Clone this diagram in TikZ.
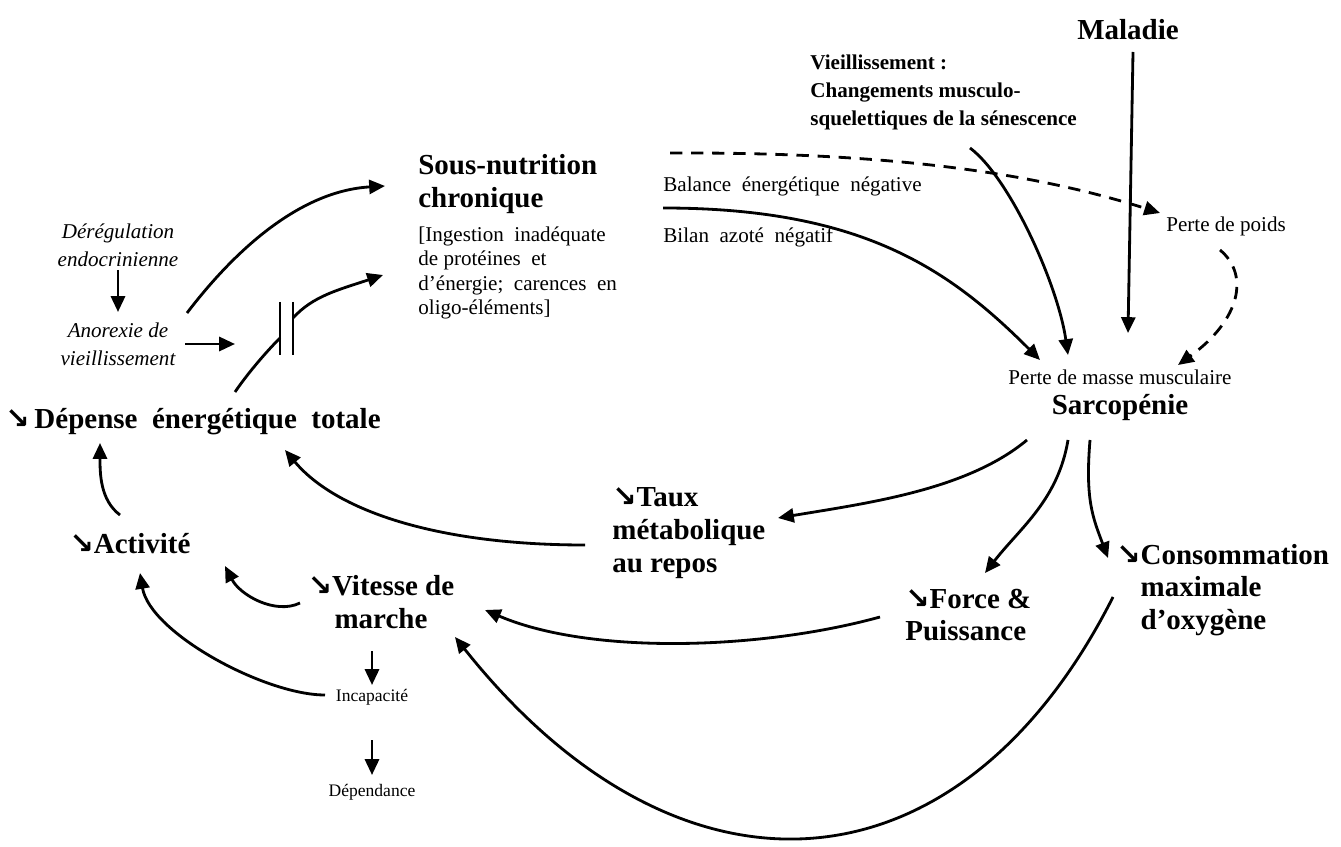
\documentclass[tikz,border=0pt]{standalone}
\usepackage{fontspec}
\setmainfont{Liberation Serif}
\newfontfamily\arrowfont{DejaVu Sans}
\usetikzlibrary{arrows.meta}
\newcommand{\baisse}{{\arrowfont\symbol{"2198}}}
\begin{document}
\begin{tikzpicture}[x=0.02cm, y=-0.02cm,
    grand/.style={font=\fontsize{16.5}{18.7}\selectfont\bfseries, align=left, inner sep=0pt},
    moyen/.style={font=\fontsize{12}{15.9}\selectfont\bfseries, align=left, inner sep=0pt},
    petit/.style={font=\fontsize{12}{14}\selectfont, align=left, inner sep=0pt},
    mini/.style={font=\fontsize{10}{12}\selectfont, inner sep=0pt},
    ital/.style={font=\fontsize{12}{16}\selectfont\itshape, align=center, inner sep=0pt},
    fleche/.style={line width=1.6pt, -{Triangle[length=9pt,width=8pt]}},
    tirets/.style={fleche, dash pattern=on 7pt off 5pt}]
  \useasboundingbox (0,0) rectangle (1341,847);
  \node[grand] (mal) at (1128,30) {Maladie};
  \node[moyen, anchor=west] (vieil) at (810,92) {Vieillissement :\\Changements musculo-\\squelettiques de la sénescence};
  \node[grand, anchor=west] (sous) at (418,184) {Sous-nutrition\\chronique};
  \node[petit, anchor=west] (ingest) at (418,273) {[Ingestion\ \ inadéquate\\de protéines\ \ et\\d’énergie;\ \ carences\ \ en\\oligo-éléments]};
  \node[petit, anchor=west] (bal) at (663,186) {Balance\ \ énergétique\ \ négative};
  \node[petit, anchor=west] (bil) at (663,237) {Bilan\ \ azoté\ \ négatif};
  \node[petit] (poids) at (1226,226) {Perte de poids};
  \node[petit] (masse) at (1120,377) {Perte de masse musculaire};
  \node[grand] (sarco) at (1120,408) {Sarcopénie};
  \node[ital] (dereg) at (118,245) {Dérégulation\\endocrinienne};
  \node[ital] (anor) at (118,344) {Anorexie de\\vieillissement};
  \node[grand, anchor=west] (dep) at (5,422) {\baisse\,Dépense\ \ énergétique\ \ totale};
  \node[grand] (act) at (130,544) {\baisse Activité};
  \node[grand, align=center] (vit) at (381,602) {\baisse Vitesse de\\marche};
  \node[mini] (incap) at (372,697) {Incapacité};
  \node[mini] (dpd) at (372,792) {Dépendance};
  \node[grand, anchor=west] (taux) at (612,533) {\baisse Taux\\métabolique\\au repos};
  \node[grand, anchor=west] (force) at (905,615) {\baisse Force \&\\Puissance};
  \node[grand, anchor=west] (conso) at (1116,590) {\baisse Consommation\\\hphantom{\baisse}maximale\\\hphantom{\baisse}d’oxygène};
  \coordinate (c1) at (280,328);
  \coordinate (c2) at (293,328);
  \draw[line width=1.6pt] ([shift={(0,-26)}]c1) -- ([shift={(0,27)}]c1);
  \draw[line width=1.6pt] ([shift={(0,-26)}]c2) -- ([shift={(0,27)}]c2);
  \draw[fleche] ([shift={(0,25)}]dereg.center) -- ([shift={(0,-32)}]anor.center);
  \draw[fleche] ([shift={(67,0)}]anor.center) -- ([shift={(-45,16)}]c1);
  \draw[fleche] ([shift={(69,-31)}]anor.center) .. controls +(48,-63) and +(-85,5) .. ([shift={(-33,2)}]sous.west);
  \draw[line width=1.6pt] ([shift={(230,-30)}]dep.west) .. controls +(15,-22) and +(-10,10) .. ([shift={(0,10)}]c1);
  \draw[fleche] ([shift={(0,-10)}]c2) .. controls +(20,-22) and +(-45,15) .. ([shift={(-35,2)}]ingest.west);
  \draw[tirets] ([shift={(7,-33)}]bal.west) .. controls +(230,-1) and +(-120,-38) .. ([shift={(-66,-13)}]poids.center);
  \draw[fleche] ([shift={(0,-29)}]bil.west) .. controls +(200,0) and +(-90,-90) .. ([shift={(-80,-17)}]masse.center);
  \draw[fleche] ([shift={(160,56)}]vieil.west) .. controls +(40,30) and +(-10,-70) .. ([shift={(-52,-22)}]masse.center);
  \draw[fleche] ([shift={(5,22)}]mal.center) -- ([shift={(8,-44)}]masse.center);
  \draw[tirets] ([shift={(-6,24)}]poids.center) .. controls +(30,25) and +(62,-45) .. ([shift={(58,-12)}]masse.center);
  \draw[fleche] ([shift={(-93,32)}]sarco.center) .. controls +(-60,50) and +(90,-15) .. ([shift={(166,-15)}]taux.west);
  \draw[fleche] ([shift={(-52,32)}]sarco.center) .. controls +(-10,60) and +(35,-45) .. ([shift={(80,-42)}]force.west);
  \draw[fleche] ([shift={(-30,32)}]sarco.center) .. controls +(-5,60) and +(-15,-40) .. ([shift={(-8,-32)}]conso.west);
  \draw[fleche] ([shift={(-27,12)}]taux.west) .. controls +(-150,0) and +(50,60) .. ([shift={(280,28)}]dep.west);
  \draw[fleche] ([shift={(-10,-29)}]act.center) .. controls +(-20,-15) and +(0,30) .. ([shift={(95,21)}]dep.west);
  \draw[fleche] ([shift={(-81,1)}]vit.center) .. controls +(-25,12) and +(15,29) .. ([shift={(95,22)}]act.center);
  \draw[fleche] ([shift={(-25,2)}]force.west) .. controls +(-120,33) and +(105,45) .. ([shift={(104,8)}]vit.center);
  \draw[fleche] ([shift={(-3,7)}]conso.west) .. controls +(-153,303) and +(225,283) .. ([shift={(74,35)}]vit.center);
  \draw[fleche] ([shift={(-9,49)}]vit.center) -- ([shift={(0,-12)}]incap.center);
  \draw[fleche] ([shift={(-47,-2)}]incap.center) .. controls +(-60,0) and +(10,60) .. ([shift={(10,29)}]act.center);
  \draw[fleche] ([shift={(0,43)}]incap.center) -- ([shift={(0,-17)}]dpd.center);
\end{tikzpicture}
\end{document}
